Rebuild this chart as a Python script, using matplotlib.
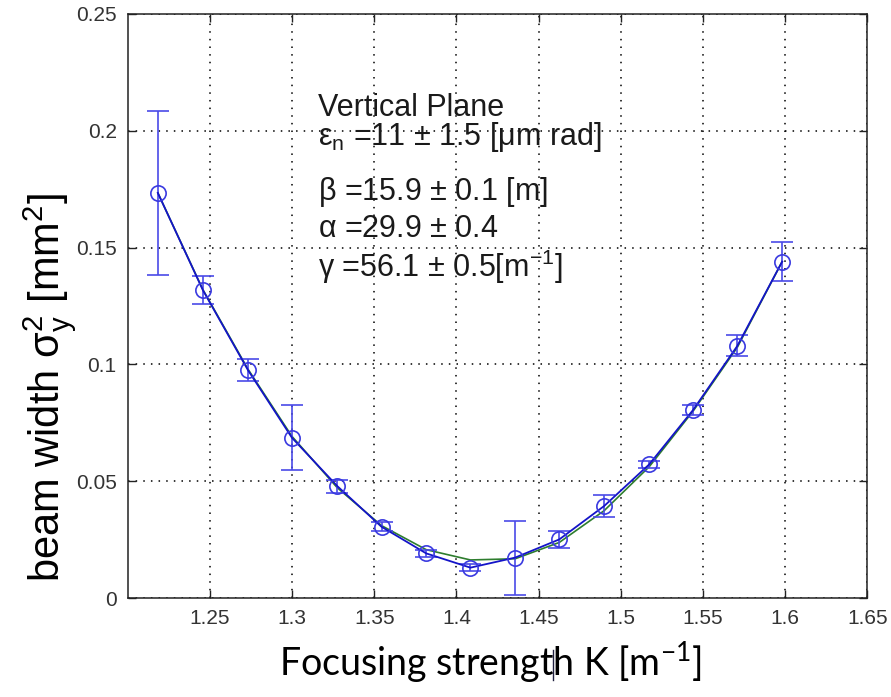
import numpy as np
import matplotlib
matplotlib.use("Agg")
import matplotlib.pyplot as plt
from matplotlib.lines import Line2D

plt.rcParams['font.family'] = ['Liberation Sans', 'DejaVu Sans']
plt.rcParams['mathtext.default'] = 'regular'

# measured points (focusing strength K, beam width sigma_y^2)
K = [1.2183, 1.2457, 1.2731, 1.2999, 1.3275, 1.3544, 1.3816, 1.4085,
     1.4357, 1.4626, 1.4899, 1.5173, 1.5440, 1.5709, 1.5982]
sig2 = [0.1734, 0.1318, 0.0976, 0.0686, 0.0479, 0.0305, 0.0191, 0.0130,
        0.0173, 0.0251, 0.0394, 0.0572, 0.0805, 0.1079, 0.1440]
err = [0.0350, 0.0060, 0.0045, 0.0140, 0.0028, 0.0020, 0.0015, 0.0015,
       0.0158, 0.0035, 0.0046, 0.0015, 0.0020, 0.0045, 0.0083]
# fitted curve read at the same K values
fit = [0.1734, 0.1320, 0.0980, 0.0692, 0.0472, 0.0310, 0.0207, 0.0163,
       0.0168, 0.0238, 0.0374, 0.0562, 0.0800, 0.1073, 0.1440]

xticks = [1.25, 1.3, 1.35, 1.4, 1.45, 1.5, 1.55, 1.6, 1.65]
xticklabels = ['1.25', '1.3', '1.35', '1.4', '1.45', '1.5', '1.55', '1.6', '1.65']
yticks = [0, 0.05, 0.1, 0.15, 0.2, 0.25]
yticklabels = ['0', '0.05', '0.1', '0.15', '0.2', '0.25']

fig = plt.figure(figsize=(8.91, 6.97), dpi=100)
ax = fig.add_axes([0.1434, 0.142, 0.9734 - 0.1434, 0.980 - 0.142])

ax.plot(K, fit, color='#2e7d2e', lw=1.2, zorder=2)
ax.errorbar(K, sig2, yerr=err, fmt='none', ecolor='#4a4ae8', elinewidth=1.2,
            capsize=8, capthick=1.2, zorder=3)
ax.plot(K, sig2, color='#1414c8', lw=1.3, marker='o', markersize=11,
        markerfacecolor='none', markeredgecolor='#3a3ae0', markeredgewidth=1.2,
        zorder=4)

ax.set_xlim(1.2, 1.65)
ax.set_ylim(0, 0.25)
ax.set_xticks(xticks)
ax.set_xticklabels(xticklabels)
ax.set_yticks(yticks)
ax.set_yticklabels(yticklabels)
ax.tick_params(direction='in', top=True, right=True, length=6, width=1,
               labelsize=15, labelcolor='#333333', color='#222222', pad=8)
for s in ax.spines.values():
    s.set_color('#222222')
    s.set_linewidth(1.1)
ax.grid(True, color='black', linestyle=(0, (1, 4)), linewidth=1.1)

txt = dict(fontsize=22, color='#1a1a1a', transform=ax.transData)
ax.text(1.3156, 0.2063, 'Vertical Plane', **txt)
ax.text(1.3156, 0.1939, r'$\varepsilon_n$ =11 $\pm$ 1.5 [$\mu$m rad]', **txt)
ax.text(1.3156, 0.1704, r'$\beta$ =15.9 $\pm$ 0.1 [m]', **txt)
ax.text(1.3156, 0.1545, r'$\alpha$ =29.9 $\pm$ 0.4', **txt)
ax.text(1.3156, 0.1374, r'$\gamma$ =56.1 $\pm$ 0.5[m$^{-1}$]', **txt)

fig.text(50 / 891, 1 - 388 / 697, r'beam width $\sigma_y^2$ [mm$^2$]',
         rotation=90, fontsize=30, ha='center', va='center', color='black')
fig.text(490 / 891, 1 - 662 / 697, 'Focusing strength K [m$^{-1}$]',
         family=['Lato', 'DejaVu Sans'], fontsize=27, ha='center', va='center',
         color='black')
fig.add_artist(Line2D([553 / 891, 553 / 891], [1 - 650 / 697, 1 - 680 / 697],
                      color='#202040', lw=1.0))

fig.savefig('out.png', dpi=100)
